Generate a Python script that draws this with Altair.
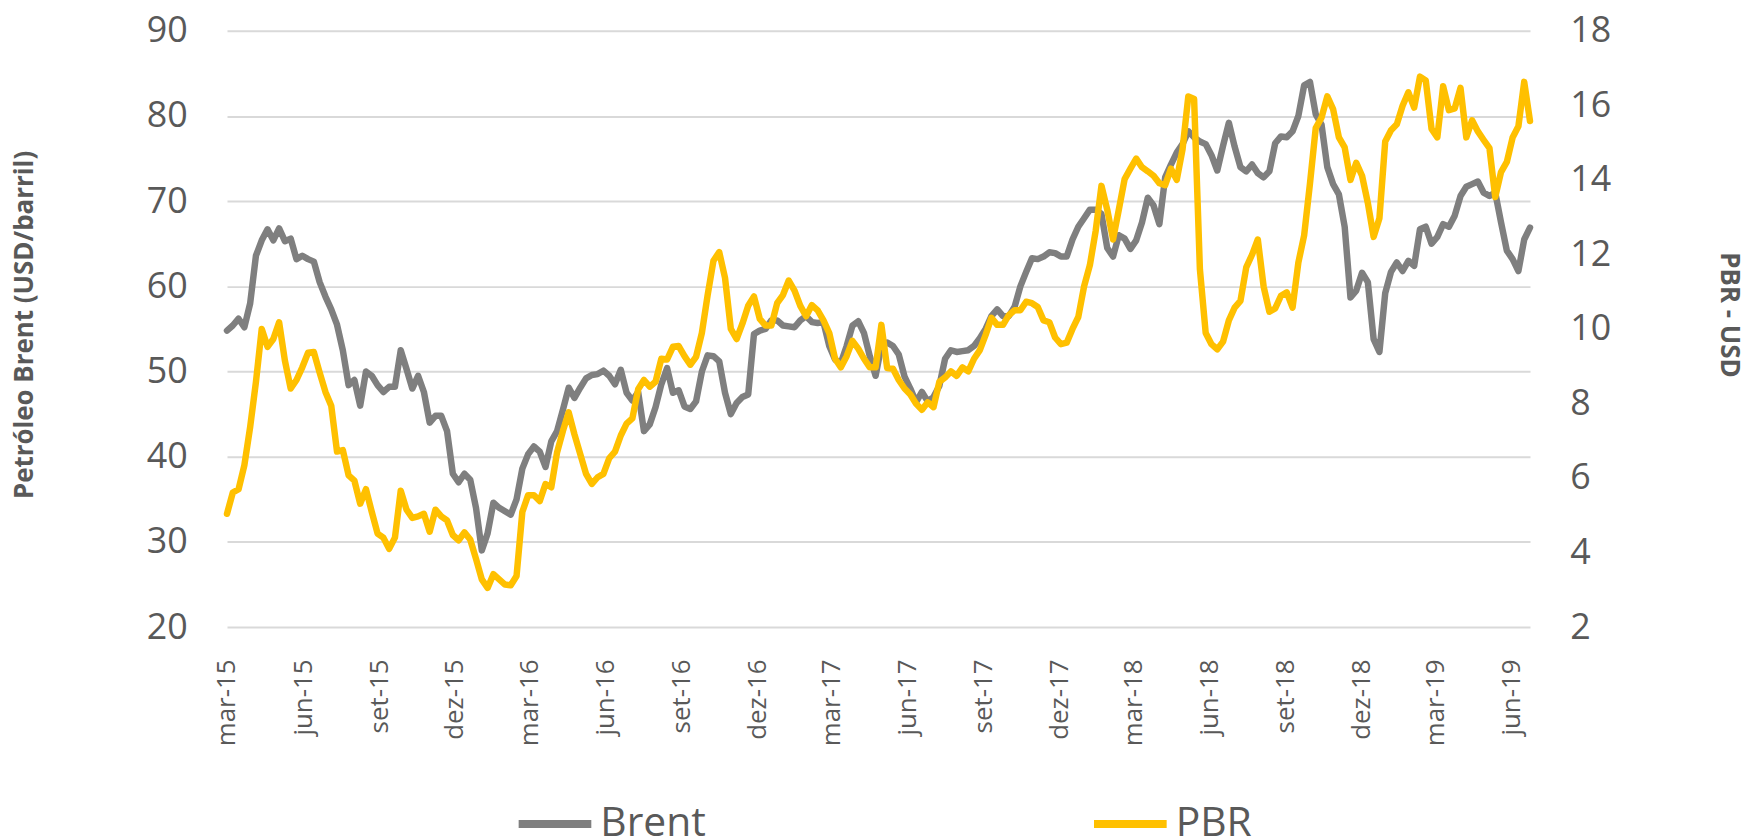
import altair as alt
import pandas as pd

# Weekly observations, first week of March 2015 to mid June 2019
start_date = "2015-03-02"
n_weeks = 226

brent = [
    54.8, 55.4, 56.2, 55.2, 58.0, 63.6, 65.4, 66.7, 65.4, 66.8,
    65.3, 65.6, 63.2, 63.6, 63.2, 62.9, 60.5, 58.8, 57.3, 55.5,
    52.5, 48.4, 49.0, 46.0, 50.0, 49.5, 48.4, 47.6, 48.2, 48.2,
    52.5, 50.3, 48.0, 49.5, 47.6, 44.0, 44.8, 44.8, 43.0, 38.0,
    37.0, 38.0, 37.3, 34.0, 29.0, 31.0, 34.6, 34.0, 33.6, 33.2,
    35.0, 38.6, 40.3, 41.2, 40.6, 38.8, 41.8, 43.0, 45.5, 48.1,
    46.9, 48.1, 49.2, 49.6, 49.7, 50.1, 49.5, 48.5, 50.2, 47.5,
    46.6, 47.6, 43.0, 43.8, 45.8, 48.5, 50.4, 47.5, 47.8, 45.9,
    45.6, 46.5, 50.0, 51.9, 51.8, 51.2, 47.5, 45.0, 46.3, 47.0,
    47.3, 54.4, 54.8, 55.0, 56.0, 56.0, 55.4, 55.3, 55.2, 56.0,
    56.5, 55.8, 55.7, 55.8, 53.0, 51.4, 51.0, 53.0, 55.4, 55.9,
    54.5, 51.8, 49.5, 53.0, 53.4, 53.0, 52.0, 49.4, 48.0, 46.4,
    47.6, 46.5, 47.0, 48.3, 51.5, 52.5, 52.3, 52.4, 52.5, 53.0,
    53.9, 55.0, 56.5, 57.3, 56.5, 56.5, 57.6, 60.0, 61.7, 63.3,
    63.2, 63.5, 64.0, 63.9, 63.5, 63.5, 65.5, 67.0, 68.0, 69.0,
    69.0, 68.5, 64.5, 63.5, 66.0, 65.6, 64.4, 65.4, 67.5, 70.4,
    69.5, 67.3, 72.8, 74.3, 75.7, 76.7, 78.2, 77.5, 77.0, 76.7,
    75.4, 73.6, 76.5, 79.2, 76.4, 74.0, 73.5, 74.3, 73.3, 72.8,
    73.5, 76.8, 77.6, 77.5, 78.2, 80.0, 83.6, 84.0, 80.2, 79.0,
    74.0, 72.0, 70.8, 67.0, 58.7, 59.5, 61.6, 60.5, 53.8, 52.3,
    59.2, 61.7, 62.8, 61.8, 63.0, 62.4, 66.7, 67.0, 65.0, 65.8,
    67.3, 67.0, 68.3, 70.6, 71.7, 72.0, 72.3, 71.0, 70.6, 71.0,
    67.5, 64.2, 63.2, 61.8, 65.5, 66.9,
]

pbr = [
    5.04, 5.61, 5.70, 6.34, 7.37, 8.58, 10.00, 9.52, 9.73, 10.18,
    9.15, 8.40, 8.63, 8.97, 9.36, 9.38, 8.83, 8.31, 7.94, 6.71,
    6.75, 6.07, 5.93, 5.31, 5.70, 5.09, 4.51, 4.40, 4.10, 4.40,
    5.66, 5.15, 4.93, 4.97, 5.04, 4.56, 5.15, 4.97, 4.86, 4.47,
    4.33, 4.54, 4.35, 3.83, 3.28, 3.05, 3.42, 3.28, 3.14, 3.12,
    3.37, 5.09, 5.54, 5.54, 5.38, 5.84, 5.75, 6.69, 7.26, 7.76,
    7.17, 6.64, 6.11, 5.84, 6.02, 6.11, 6.53, 6.71, 7.14, 7.46,
    7.60, 8.38, 8.63, 8.45, 8.58, 9.20, 9.18, 9.52, 9.54, 9.27,
    9.04, 9.25, 9.89, 10.91, 11.83, 12.06, 11.37, 10.00, 9.73, 10.14,
    10.62, 10.87, 10.27, 10.09, 10.09, 10.69, 10.91, 11.30, 11.03, 10.62,
    10.34, 10.64, 10.50, 10.23, 9.89, 9.20, 8.97, 9.27, 9.68, 9.47,
    9.20, 8.97, 8.97, 10.11, 8.95, 8.93, 8.63, 8.40, 8.24, 7.99,
    7.83, 8.03, 7.90, 8.58, 8.70, 8.86, 8.74, 8.97, 8.86, 9.20,
    9.43, 9.84, 10.30, 10.11, 10.11, 10.37, 10.50, 10.50, 10.73, 10.69,
    10.59, 10.23, 10.18, 9.77, 9.59, 9.63, 10.00, 10.32, 11.14, 11.71,
    12.63, 13.84, 13.20, 12.40, 13.20, 14.02, 14.30, 14.57, 14.34, 14.23,
    14.11, 13.91, 13.86, 14.30, 14.00, 14.82, 16.24, 16.17, 11.60, 9.89,
    9.59, 9.45, 9.66, 10.23, 10.57, 10.75, 11.65, 11.99, 12.40, 11.14,
    10.46, 10.55, 10.89, 10.98, 10.57, 11.78, 12.51, 13.89, 15.39, 15.67,
    16.24, 15.90, 15.14, 14.87, 14.00, 14.46, 14.11, 13.38, 12.47, 12.97,
    15.03, 15.33, 15.49, 15.99, 16.35, 15.94, 16.77, 16.67, 15.37, 15.14,
    16.51, 15.87, 15.92, 16.47, 15.14, 15.60, 15.30, 15.07, 14.85, 13.54,
    14.21, 14.48, 15.14, 15.44, 16.63, 15.58,
]

tick_start = "2015-03-02"
tick_end = "2019-06-02"
brent_ticks = [20, 30, 40, 50, 60, 70, 80, 90]
pbr_ticks = [2, 4, 6, 8, 10, 12, 14, 16, 18]
series_names = ["Brent", "PBR"]
series_colors = ["#7f7f7f", "#ffc000"]

dates = pd.date_range(start_date, periods=n_weeks, freq="7D")
date_ms = (dates.astype("int64") // 10**6).tolist()
df = pd.DataFrame({"date": date_ms, "brent": brent, "pbr": pbr})

ticks = pd.date_range(tick_start, tick_end, freq=pd.DateOffset(months=3))
tick_ms = [int(t.value // 10**6) for t in ticks]

FONT = "Open Sans"
GREY_TXT = "#595959"

month_expr = (
    "['jan','fev','mar','abr','mai','jun','jul','ago','set','out','nov','dez']"
    "[utcmonth(datum.value)] + '-' + utcFormat(datum.value, '%y')"
)

x_enc = alt.X(
    "date:T",
    scale=alt.Scale(type="utc", domain=[date_ms[0], date_ms[-1]]),
    axis=alt.Axis(
        values=tick_ms,
        labelExpr=month_expr,
        labelAngle=270,
        labelAlign="right",
        labelBaseline="middle",
        labelFontSize=26,
        labelPadding=32,
        labelOverlap=False,
        grid=False,
        title=None,
    ),
)

color_scale = alt.Scale(domain=series_names, range=series_colors)
legend = alt.Legend(
    orient="none",
    legendX=289,
    legendY=756,
    direction="horizontal",
    title=None,
    symbolType="stroke",
    symbolSize=5329,
    symbolStrokeWidth=8,
    labelFont=FONT,
    labelFontSize=41,
    labelColor=GREY_TXT,
    labelOffset=5,
    columnPadding=373,
    padding=0,
    labelLimit=400,
)

line_style = dict(strokeWidth=6.5, strokeCap="round", strokeJoin="round")

brent_line = (
    alt.Chart(df)
    .transform_calculate(series="'Brent'")
    .mark_line(**line_style)
    .encode(
        x=x_enc,
        y=alt.Y(
            "brent:Q",
            scale=alt.Scale(domain=[20, 90], nice=False, zero=False),
            axis=alt.Axis(
                orient="left",
                values=brent_ticks,
                title="Petróleo Brent (USD/barril)",
                titleFontSize=26,
                titleFontWeight="bold",
                titleAngle=270,
                titleAlign="center",
                titleBaseline="middle",
                titleX=-203,
                titleY=295,
                labelFontSize=36,
                labelPadding=40,
                labelOverlap=False,
                labelFlush=False,
                grid=True,
            ),
        ),
        color=alt.Color("series:N", scale=color_scale, legend=legend),
    )
)

pbr_line = (
    alt.Chart(df)
    .transform_calculate(series="'PBR'")
    .mark_line(**line_style)
    .encode(
        x=x_enc,
        y=alt.Y(
            "pbr:Q",
            scale=alt.Scale(domain=[2, 18], nice=False, zero=False),
            axis=alt.Axis(
                orient="right",
                values=pbr_ticks,
                title="PBR  -  USD",
                titleFontSize=26,
                titleFontWeight="bold",
                titleAngle=90,
                titleAlign="center",
                titleBaseline="middle",
                titleX=199,
                titleY=285,
                labelFontSize=36,
                labelPadding=40,
                labelOverlap=False,
                labelFlush=False,
                grid=False,
            ),
        ),
        color=alt.Color("series:N", scale=color_scale, legend=legend),
    )
)

chart = (
    alt.layer(brent_line, pbr_line)
    .resolve_scale(y="independent")
    .properties(
        width=1309,
        height=599,
        autosize=alt.AutoSizeParams(type="none"),
        padding={"left": 220, "top": 21, "right": 217, "bottom": 211},
        background="white",
    )
    .configure_view(strokeWidth=0)
    .configure_axis(
        domain=False,
        ticks=False,
        tickSize=0,
        labelFont=FONT,
        labelColor=GREY_TXT,
        titleFont=FONT,
        titleColor=GREY_TXT,
        gridColor="#d9d9d9",
        gridWidth=2,
    )
)

chart.save("out.html", embed_options={"renderer": "svg", "actions": False})
